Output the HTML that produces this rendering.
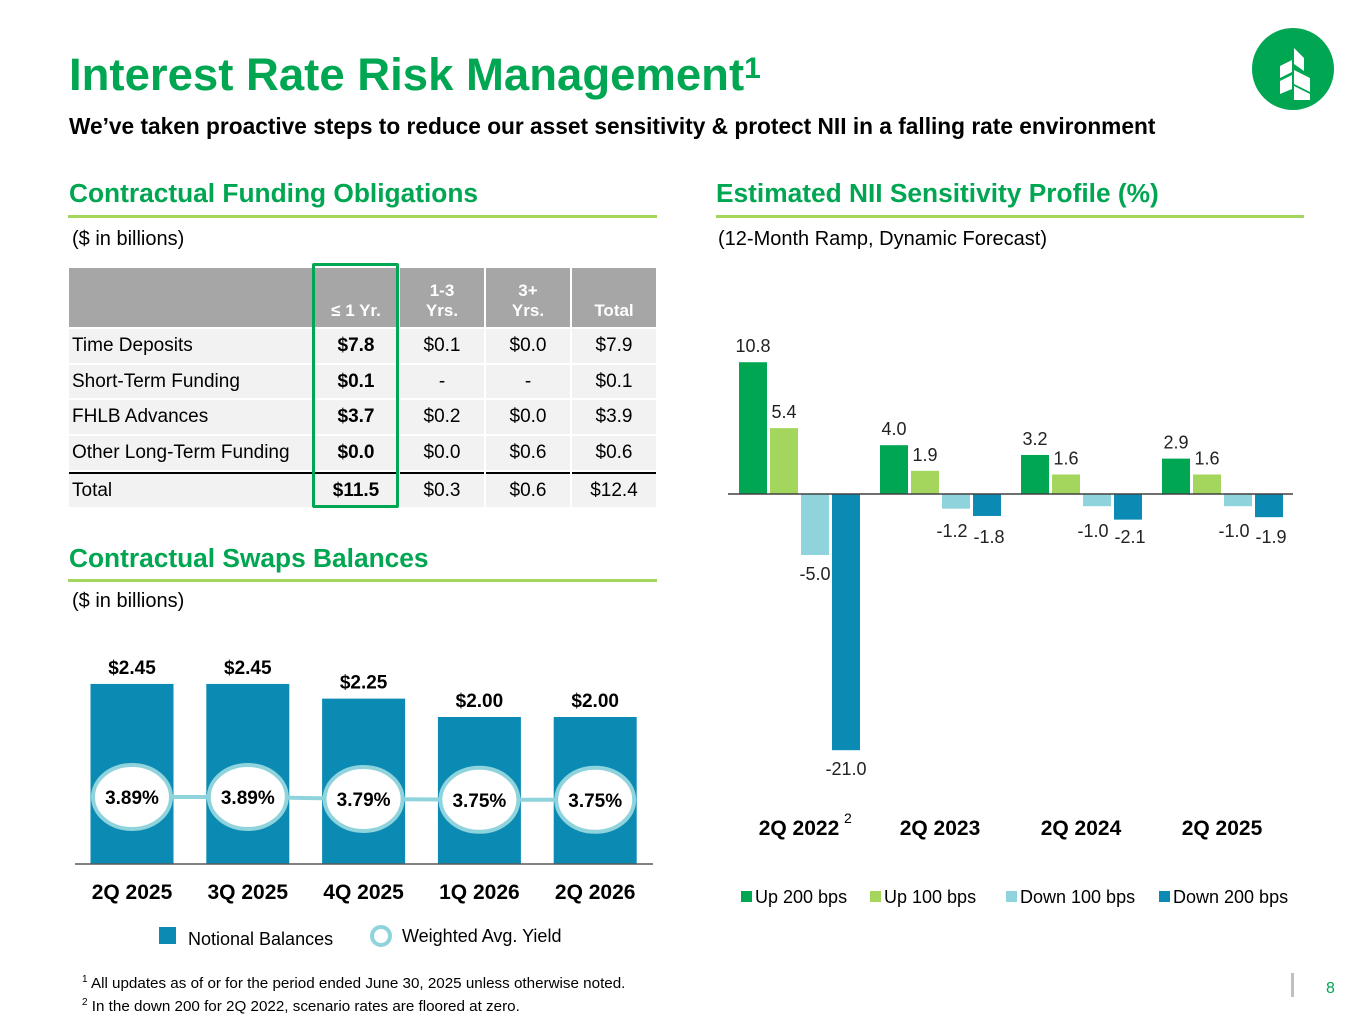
<!DOCTYPE html>
<html><head><meta charset="utf-8"><style>
body{margin:0;width:1365px;height:1024px;background:#fff;font-family:"Liberation Sans",Arial,sans-serif;position:relative;overflow:hidden;color:#000}
.abs{position:absolute}
h1{position:absolute;left:69px;top:50px;margin:0;font-size:45.5px;color:#00a651;font-weight:bold;line-height:50px;white-space:nowrap}
h1 sup{font-size:30px;vertical-align:top;position:relative;top:-6px}
.sub{left:69px;top:113px;font-size:22.7px;font-weight:bold;white-space:nowrap}
.sec{font-size:26.3px;font-weight:bold;color:#00a651;white-space:nowrap}
.rule{height:3px;background:#a4d65e}
.note{font-size:20px}
table{position:absolute;left:67px;top:266px;border-collapse:separate;border-spacing:2px;width:591px;font-size:19px;table-layout:fixed}
td{background:#f2f2f2;height:33.7px;text-align:center;padding:0}
td.l{text-align:left;padding-left:3px}
tr.h td{background:#a6a6a6;color:#fff;font-weight:bold;height:53px;vertical-align:bottom;padding-bottom:6px;font-size:17px}
td.b{font-weight:bold}
tr.t td{border-top:2px solid #000}
</style></head><body>
<h1>Interest Rate Risk Management<sup>1</sup></h1>
<div class="abs sub">We’ve taken proactive steps to reduce our asset sensitivity &amp; protect NII in a falling rate environment</div>
<svg class="abs" style="left:1252px;top:28px" width="82" height="82"><circle cx="41" cy="41" r="41" fill="#00a651"/><path d="M42 20 L52 30 L52 43 L42 36Z M28 38 L40 32 L40 44 L28 50Z M42 42 L58 50 L58 64 L42 56Z M28 53 L40 47 L40 61 L28 66Z M42 58 L58 66 L58 72 L42 72Z" fill="#fff"/></svg>

<div class="abs sec" style="left:69px;top:178px">Contractual Funding Obligations</div>
<div class="abs rule" style="left:68px;top:215px;width:589px"></div>
<div class="abs note" style="left:72px;top:228px">($ in billions)</div>
<table>
<colgroup><col style="width:243px"><col style="width:84px"><col style="width:84px"><col style="width:84px"><col style="width:84px"></colgroup>
<tr class="h"><td class="l"></td><td>≤ 1 Yr.</td><td>1-3<br>Yrs.</td><td>3+<br>Yrs.</td><td>Total</td></tr>
<tr><td class="l">Time Deposits</td><td class="b">$7.8</td><td>$0.1</td><td>$0.0</td><td>$7.9</td></tr>
<tr><td class="l">Short-Term Funding</td><td class="b">$0.1</td><td>-</td><td>-</td><td>$0.1</td></tr>
<tr><td class="l">FHLB Advances</td><td class="b">$3.7</td><td>$0.2</td><td>$0.0</td><td>$3.9</td></tr>
<tr><td class="l">Other Long-Term Funding</td><td class="b">$0.0</td><td>$0.0</td><td>$0.6</td><td>$0.6</td></tr>
<tr class="t"><td class="l">Total</td><td class="b">$11.5</td><td>$0.3</td><td>$0.6</td><td>$12.4</td></tr>
</table>
<div class="abs" style="left:312px;top:263px;width:81px;height:239px;border:3px solid #00a651;border-radius:2px"></div>

<div class="abs sec" style="left:69px;top:543px">Contractual Swaps Balances</div>
<div class="abs rule" style="left:68px;top:579px;width:589px"></div>
<div class="abs note" style="left:72px;top:590px">($ in billions)</div>

<div class="abs sec" style="left:716px;top:178px">Estimated NII Sensitivity Profile (%)</div>
<div class="abs rule" style="left:716px;top:215px;width:588px"></div>
<div class="abs note" style="left:718px;top:228px">(12-Month Ramp, Dynamic Forecast)</div>

<svg class="abs" style="left:0;top:0" width="1365" height="1024" id="charts"></svg>

<div class="abs" style="left:82px;top:970px;font-size:15.2px;line-height:19px;white-space:nowrap"><sup style="font-size:10px">1</sup> All updates as of or for the period ended June 30, 2025 unless otherwise noted.<br><sup style="font-size:10px">2</sup> In the down 200 for 2Q 2022, scenario rates are floored at zero.</div>
<div class="abs" style="left:1291px;top:973px;width:3px;height:24px;background:#bfbfbf"></div>
<div class="abs" style="left:1326px;top:980px;font-size:16px;color:#00a651">8</div>

<script>
const swapCats=["2Q 2025","3Q 2025","4Q 2025","1Q 2026","2Q 2026"];
const swapVals=[2.45,2.45,2.25,2.00,2.00];
const swapYields=[3.89,3.89,3.79,3.75,3.75];
const niiCats=["2Q 2022","2Q 2023","2Q 2024","2Q 2025"];
const niiSeries=["Up 200 bps","Up 100 bps","Down 100 bps","Down 200 bps"];
const up200=[10.8,4.0,3.2,2.9];
const up100=[5.4,1.9,1.6,1.6];
const down100=[-5.0,-1.2,-1.0,-1.0];
const down200=[-21.0,-1.8,-2.1,-1.9];

const svg=document.getElementById('charts');
const NS='http://www.w3.org/2000/svg';
function mk(tag,attrs,parent){const e=document.createElementNS(NS,tag);for(const k in attrs)e.setAttribute(k,attrs[k]);(parent||svg).appendChild(e);return e;}
function txt(s,x,y,attrs){const t=mk('text',Object.assign({x:x,y:y,'font-family':'Liberation Sans, Arial, sans-serif'},attrs));t.textContent=s;return t;}

const sBase=864, sScale=73.5;
const sx=i=>132+i*115.8, sy=v=>sBase-v*sScale;
swapVals.forEach((v,i)=>{
  const r=mk('rect',{x:sx(i)-41.5,y:sy(v),width:83,height:sBase-sy(v),fill:'#0b8bb3'});
  
  
  const t=txt('$'+v.toFixed(2),sx(i),sy(v)-10,{'font-size':19,'font-weight':'bold','text-anchor':'middle'});
  
  
  const c=txt(swapCats[i],sx(i),899,{'font-size':21,'font-weight':'bold','text-anchor':'middle'});
  
  
});
mk('line',{x1:75,x2:653,y1:sBase,y2:sBase,stroke:'#595959','stroke-width':1.5});
const yy=v=>797+(3.89-v)*20;
const pts=swapYields.map((v,i)=>sx(i)+','+yy(v)).join(' ');
const pl=mk('polyline',{points:pts,fill:'none',stroke:'#8fd3dc','stroke-width':4});


swapYields.forEach((v,i)=>{
  const e=mk('ellipse',{cx:sx(i),cy:yy(v),rx:39,ry:32,fill:'#fff',stroke:'#8fd3dc','stroke-width':4});
  
  
  const t=txt(v.toFixed(2)+'%',sx(i),yy(v)+7,{'font-size':19,'font-weight':'bold','text-anchor':'middle'});
  
  
});
const lg1=mk('rect',{x:159,y:927,width:17,height:17,fill:'#0b8bb3'});


txt('Notional Balances',188,945,{'font-size':18});
const lg2=mk('circle',{cx:381,cy:936,r:9,fill:'#fff',stroke:'#8fd3dc','stroke-width':4});


txt('Weighted Avg. Yield',402,942,{'font-size':18});

const nZero=494, nScale=12.2;
const ny=v=>nZero-v*nScale;
const colors=['#00a651','#a4d65e','#8fd3dc','#0b8bb3'];
const series=[up200,up100,down100,down200];
series.forEach((arr,s)=>{
  arr.forEach((v,i)=>{
    const x=739+i*141+s*31;
    const y=Math.min(ny(v),nZero), h=Math.abs(ny(v)-nZero);
    const r=mk('rect',{x:x,y:y,width:28,height:h,fill:colors[s]});
    
    
    let lx=x+14, ly=v>=0?ny(v)-10:ny(v)+25;
    if(v<0&&s==2&&i>0){lx=x+10;ly=nZero+43;}
    if(v<0&&s==3&&i>0){lx=x+16;ly=nZero+49;}
    const t=txt(v.toFixed(1),lx,ly,{'font-size':18,'text-anchor':'middle',fill:'#222'});
    
    
  });
});
mk('line',{x1:728,x2:1293,y1:nZero,y2:nZero,stroke:'#404040','stroke-width':1.5});
niiCats.forEach((c,i)=>{
  const t=txt(c,799+i*141,835,{'font-size':21,'font-weight':'bold','text-anchor':'middle'});
  
  
});
txt('2',844,823,{'font-size':14});
const lx0=[741,870,1006,1159];
niiSeries.forEach((s,i)=>{
  const r=mk('rect',{x:lx0[i],y:891,width:11,height:11,fill:colors[i]});
  
  
  const t=txt(s,lx0[i]+14,903,{'font-size':18});
  
  
});
</script>
</body></html>
